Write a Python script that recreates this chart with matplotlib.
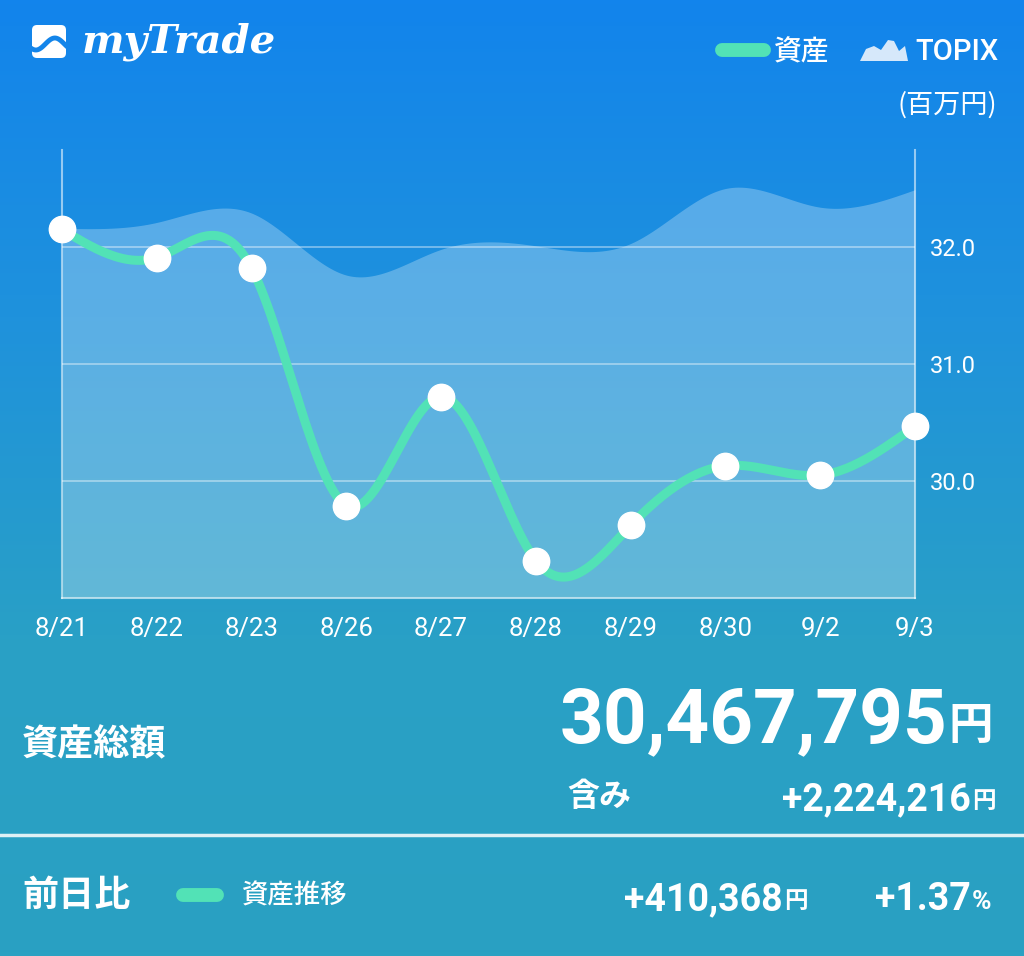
import numpy as np
import matplotlib
matplotlib.use('Agg')
import matplotlib.pyplot as plt
from matplotlib.patches import FancyBboxPatch, Polygon
from matplotlib.colors import LinearSegmentedColormap

# data (millions of yen)
dates = ['8/21', '8/22', '8/23', '8/26', '8/27', '8/28', '8/29', '8/30', '9/2', '9/3']
assets = [32.15, 31.91, 31.82, 29.79, 30.72, 29.32, 29.62, 30.13, 30.05, 30.467795]
topix = [32.16, 32.21, 32.29, 31.76, 31.98, 32.01, 32.03, 32.50, 32.34, 32.49]
yticks = [30.0, 31.0, 32.0]

total = '30,467,795'
unrealized = '+2,224,216'
day_change = '+410,368'
day_pct = '+1.37'

W, H = 1024, 956
TEAL = '#52e2b6'
JP = ['Noto Sans CJK JP', 'DejaVu Sans']
NUM = ['Roboto', 'Noto Sans CJK JP']


def natural_spline(y, n=30):
    '''Natural cubic spline through equally spaced points, for drawing a smooth line.'''
    y = np.asarray(y, float)
    k = len(y)
    A = np.zeros((k, k))
    b = np.zeros(k)
    A[0, 0] = A[-1, -1] = 1
    for i in range(1, k - 1):
        A[i, i - 1:i + 2] = [1, 4, 1]
        b[i] = 6 * (y[i - 1] - 2 * y[i] + y[i + 1])
    M = np.linalg.solve(A, b)
    xs, ys = [], []
    for i in range(k - 1):
        t = np.linspace(0, 1, n, endpoint=(i == k - 2))
        a = 1 - t
        s = a * y[i] + t * y[i + 1] + ((a ** 3 - a) * M[i] + (t ** 3 - t) * M[i + 1]) / 6
        xs.append(i + t)
        ys.append(s)
    return np.concatenate(xs), np.concatenate(ys)


def fx(px):
    return px / W


def fy(py):
    return 1 - py / H


fig = plt.figure(figsize=(W / 100, H / 100), dpi=100)

# background gradient
bg = fig.add_axes([0, 0, 1, 1], zorder=0)
cmap = LinearSegmentedColormap.from_list('bg', ['#1284ec', '#1f92dc', '#29a0c6', '#2aa1c2'])
bg.imshow(np.linspace(0, 1, 256).reshape(-1, 1), aspect='auto', cmap=cmap, extent=[0, 1, 0, 1])
bg.set_xlim(0, 1)
bg.set_ylim(0, 1)
bg.axis('off')

# chart
ax = fig.add_axes([fx(62), fy(598), fx(915) - fx(62), (598 - 150) / H], zorder=2)
ax.patch.set_alpha(0)
x = np.arange(len(dates))
ymin = 29.0
ymax = 32.0 + (247 - 150) / 117
ax.set_xlim(0, len(dates) - 1)
ax.set_ylim(ymin, ymax)

tx, ty = natural_spline(topix)
ax.fill_between(tx, ty, ymin, color='white', alpha=0.27, lw=0, zorder=1)
for v in yticks:
    ax.axhline(v, color='white', alpha=0.45, lw=1.2, zorder=2)

ax_x, ax_y = natural_spline(assets)
ax.plot(ax_x, ax_y, color=TEAL, lw=6.5, solid_capstyle='round', zorder=3)
ax.plot(x, assets, 'o', color='white', ms=19, mec='white', zorder=4, clip_on=False)

ax.spines['top'].set_visible(False)
for s in ['left', 'right', 'bottom']:
    ax.spines[s].set_color((1, 1, 1, 0.55))
    ax.spines[s].set_linewidth(1.5)

ax.set_xticks(x)
ax.set_xticklabels(dates)
ax.yaxis.tick_right()
ax.set_yticks(yticks)
ax.set_yticklabels(['%.1f' % v for v in yticks])
ax.tick_params(axis='x', length=0, pad=14, labelcolor='white', labelsize=18.5)
ax.tick_params(axis='y', length=0, pad=11, labelcolor='white', labelsize=17)
for t in ax.get_xticklabels() + ax.get_yticklabels():
    t.set_fontfamily(NUM)

# overlay for header / footer drawing
ov = fig.add_axes([0, 0, 1, 1], zorder=3)
ov.set_xlim(0, W)
ov.set_ylim(H, 0)
ov.axis('off')

# logo
ov.add_patch(FancyBboxPatch((32, 25), 34, 33, boxstyle='round,pad=0,rounding_size=5',
                            fc='white', ec='none'))
wx = np.linspace(30, 68, 40)
ov.plot(wx, 44 + 6 * np.sin((wx - 30) / 38 * 2 * np.pi + 0.6), color='#1385ea', lw=3.5)
ov.text(82, 42, 'myTrade', color='white', fontsize=29, fontweight='bold', style='italic',
        family='DejaVu Serif', va='center', ha='left')

# legend
ov.plot([722, 764], [50, 50], color=TEAL, lw=10, solid_capstyle='round')
ov.text(774, 52, '資産', color='white', fontsize=20, family=JP, va='center', ha='left', fontweight='medium')
ov.add_patch(Polygon([[860, 61], [866, 49], [874, 46], [881, 50], [888, 40], [894, 41],
                      [899, 51], [905, 46], [908, 61]], closed=True, fc='#d6e8fa', ec='none'))
ov.text(915, 52, 'TOPIX', color='white', fontsize=21, family=NUM, va='center', ha='left', fontweight='medium')
ov.text(997, 105, '(百万円)', color='white', fontsize=19.5, family=JP, va='center', ha='right')

# totals
ov.text(22, 745, '資産総額', color='white', fontsize=26, family=JP, fontweight='bold', va='center')
ov.text(947, 742, total, color='white', fontsize=55, family=NUM, fontweight='bold', va='baseline', ha='right')
ov.text(948, 739, '円', color='white', fontsize=32, family=JP, fontweight='bold', va='baseline', ha='left')
ov.text(567, 797, '含み', color='white', fontsize=23, family=JP, fontweight='bold', va='center')
ov.text(971, 810, unrealized, color='white', fontsize=27, family=NUM, fontweight='bold', va='baseline', ha='right')
ov.text(972, 808, '円', color='white', fontsize=17, family=JP, fontweight='bold', va='baseline', ha='left')

ov.plot([0, W], [835, 835], color=(1, 1, 1, 0.85), lw=2.5)

ov.text(22, 895, '前日比', color='white', fontsize=26, family=JP, fontweight='bold', va='center')
ov.plot([183, 217], [895, 895], color=TEAL, lw=10, solid_capstyle='round')
ov.text(242, 896, '資産推移', color='white', fontsize=19, family=JP, va='center', fontweight='medium')
ov.text(783, 910, day_change, color='white', fontsize=27, family=NUM, fontweight='bold', va='baseline', ha='right')
ov.text(784, 908, '円', color='white', fontsize=17, family=JP, fontweight='bold', va='baseline', ha='left')
ov.text(971, 910, day_pct, color='white', fontsize=27, family=NUM, fontweight='bold', va='baseline', ha='right')
ov.text(972, 909, '%', color='white', fontsize=19, family=NUM, fontweight='bold', va='baseline', ha='left')

fig.savefig('out.png', dpi=100)
